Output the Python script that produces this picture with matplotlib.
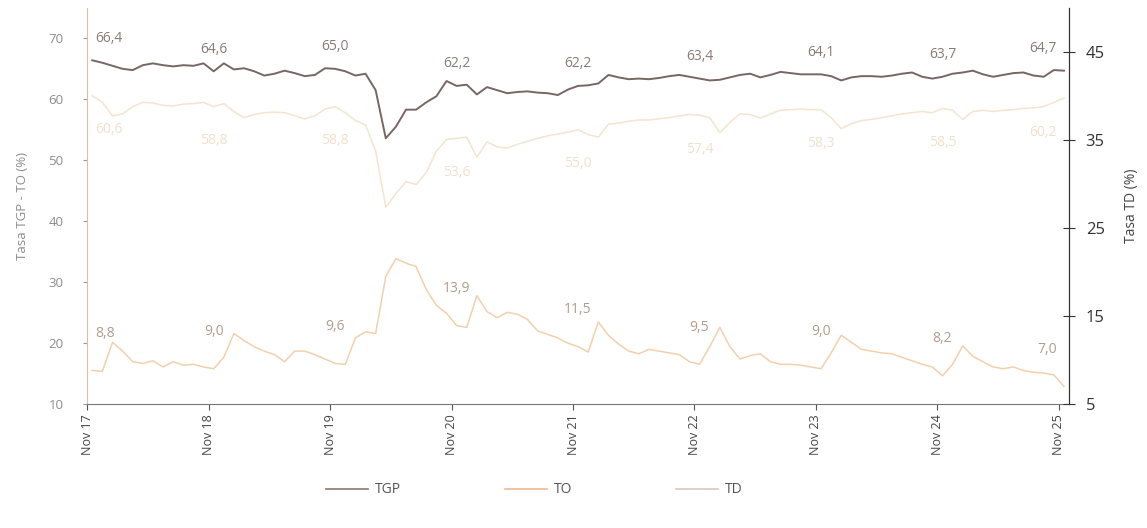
import matplotlib
matplotlib.use('Agg')
import matplotlib.pyplot as plt
import numpy as np

plt.rcParams['font.family'] = ['Open Sans', 'DejaVu Sans']

# monthly series, Nov 2017 .. Nov 2025 (97 points)
tgp = [66.4, 66.0, 65.5, 65.0, 64.8, 65.6, 65.9, 65.6, 65.4, 65.6, 65.5, 65.9,
       64.6, 65.9, 64.9, 65.1, 64.6, 63.9, 64.2, 64.7, 64.3, 63.8, 64.0, 65.1,
       65.0, 64.6, 63.9, 64.2, 61.5, 53.6, 55.5, 58.3, 58.3, 59.5, 60.5, 63.0,
       62.2, 62.4, 60.8, 62.0, 61.5, 61.0, 61.2, 61.3, 61.1, 61.0, 60.7, 61.6,
       62.2, 62.3, 62.6, 64.0, 63.6, 63.3, 63.4, 63.3, 63.5, 63.8, 64.0, 63.7,
       63.4, 63.1, 63.2, 63.6, 64.0, 64.2, 63.6, 64.0, 64.5, 64.3, 64.1, 64.1,
       64.1, 63.8, 63.1, 63.6, 63.8, 63.8, 63.7, 63.9, 64.2, 64.4, 63.7, 63.4,
       63.7, 64.2, 64.4, 64.7, 64.1, 63.7, 64.0, 64.3, 64.4, 63.9, 63.7, 64.8,
       64.7]
to = [60.6, 59.5, 57.3, 57.6, 58.8, 59.5, 59.4, 59.0, 58.9, 59.2, 59.3, 59.5,
      58.8, 59.3, 58.0, 57.0, 57.5, 57.8, 57.9, 57.8, 57.3, 56.8, 57.3, 58.4,
      58.8, 57.8, 56.5, 55.8, 51.5, 42.3, 44.5, 46.5, 46.0, 48.0, 51.5, 53.4,
      53.6, 53.8, 50.5, 53.0, 52.2, 52.0, 52.6, 53.1, 53.6, 54.0, 54.3, 54.6,
      55.0, 54.2, 53.8, 55.9, 56.1, 56.4, 56.6, 56.6, 56.8, 57.0, 57.3, 57.5,
      57.4, 57.0, 54.5, 56.2, 57.6, 57.5, 56.9, 57.6, 58.2, 58.3, 58.4, 58.3,
      58.3, 57.0, 55.2, 56.0, 56.5, 56.7, 57.0, 57.3, 57.6, 57.8, 58.0, 57.8,
      58.5, 58.2, 56.7, 58.0, 58.2, 58.0, 58.2, 58.3, 58.5, 58.6, 58.8, 59.5,
      60.2]
td = [8.8, 8.7, 12.0, 11.0, 9.8, 9.6, 9.9, 9.2, 9.8, 9.4, 9.5, 9.2,
      9.0, 10.3, 13.0, 12.2, 11.5, 11.0, 10.6, 9.8, 11.0, 11.0, 10.6, 10.1,
      9.6, 9.5, 12.5, 13.2, 13.0, 19.5, 21.5, 21.0, 20.6, 18.0, 16.2, 15.3,
      13.9, 13.7, 17.3, 15.5, 14.8, 15.4, 15.2, 14.6, 13.3, 12.9, 12.5, 11.9,
      11.5, 10.9, 14.3, 12.8, 11.8, 11.0, 10.7, 11.2, 11.0, 10.8, 10.6, 9.8,
      9.5, 11.5, 13.7, 11.5, 10.1, 10.5, 10.7, 9.8, 9.5, 9.5, 9.4, 9.2,
      9.0, 10.8, 12.8, 12.0, 11.2, 11.0, 10.8, 10.7, 10.3, 9.9, 9.5, 9.2,
      8.2, 9.5, 11.6, 10.4, 9.8, 9.2, 9.0, 9.2, 8.8, 8.6, 8.5, 8.3,
      7.0]
tick_labels = ['Nov 17', 'Nov 18', 'Nov 19', 'Nov 20', 'Nov 21',
               'Nov 22', 'Nov 23', 'Nov 24', 'Nov 25']

c_tgp = '#766764'
c_to = '#f5e4cf'
c_td = '#f3d0ad'

n = len(tgp)
x = np.arange(n) + 0.5
ticks = np.arange(0, n, 12)

fig = plt.figure(figsize=(11.47, 5.28), dpi=100)
ax = fig.add_axes([0.076, 0.235, 0.856, 0.75])
ax2 = ax.twinx()

ax.plot(x, tgp, color=c_tgp, lw=1.4, label='TGP', zorder=3)
ax.plot(x, to, color=c_to, lw=1.1, label='TO', zorder=2)
ax2.plot(x, td, color=c_td, lw=1.1, label='TD')

ax.set_xlim(0, n)
ax.set_ylim(10, 75)
ax2.set_ylim(5, 50)
ax.set_yticks([10, 20, 30, 40, 50, 60, 70])
ax2.set_yticks([5, 15, 25, 35, 45])
ax.set_xticks(ticks)
ax.set_xticklabels(tick_labels, rotation=90, fontsize=9, color='#444444')


def fmt(v):
    return f'{v:.1f}'.replace('.', ',')


# data labels at each November
for k, i in enumerate(ticks):
    xi = i + 0.5
    ha = 'center'
    if k == 0:
        xi, ha = 0.8, 'left'
    elif k == len(ticks) - 1:
        xi, ha = n - 1.2, 'right'
    ax.text(xi, tgp[i] + 3.6, fmt(tgp[i]), ha=ha, va='center',
            fontsize=10, color='#8a7a74')
    ax.text(xi, to[i] - 5.6, fmt(to[i]), ha=ha, va='center',
            fontsize=10, color='#f0e0cd')
    ax2.text(xi, td[i] + 4.2, fmt(td[i]), ha=ha, va='center',
             fontsize=10, color='#b39c8c')

ax.spines['top'].set_visible(False)
ax2.spines['top'].set_visible(False)
ax.spines['left'].set_color('#dcc0a4')
ax.spines['bottom'].set_color('#777777')
ax2.spines['left'].set_visible(False)
ax2.spines['bottom'].set_visible(False)
ax2.spines['right'].set_color('#333333')

ax.tick_params(axis='y', length=3, pad=14, color='#999999',
               labelcolor='#8c8c8c', labelsize=9.5)
ax.tick_params(axis='x', length=4, color='#555555')
ax2.tick_params(axis='y', direction='inout', length=8, pad=8,
                color='#333333', labelcolor='#333333', labelsize=12)

ax.set_ylabel('Tasa TGP - TO (%)', fontsize=9.5, color='#8c8c8c', labelpad=14)
ax2.set_ylabel('Tasa TD (%)', fontsize=10, color='#444444', labelpad=14)

handles = [plt.Line2D([], [], color='#8c7570', lw=1.2),
           plt.Line2D([], [], color='#f2b58f', lw=1.2),
           plt.Line2D([], [], color='#d9c6bc', lw=1.2)]
fig.legend(handles, ['TGP', 'TO', 'TD'], loc='center', ncol=3,
           bbox_to_anchor=(0.466, 0.072), frameon=False, fontsize=10,
           handlelength=3.0, columnspacing=7.5, handletextpad=0.5,
           labelcolor='#555555')

fig.savefig('out.png', dpi=100)
